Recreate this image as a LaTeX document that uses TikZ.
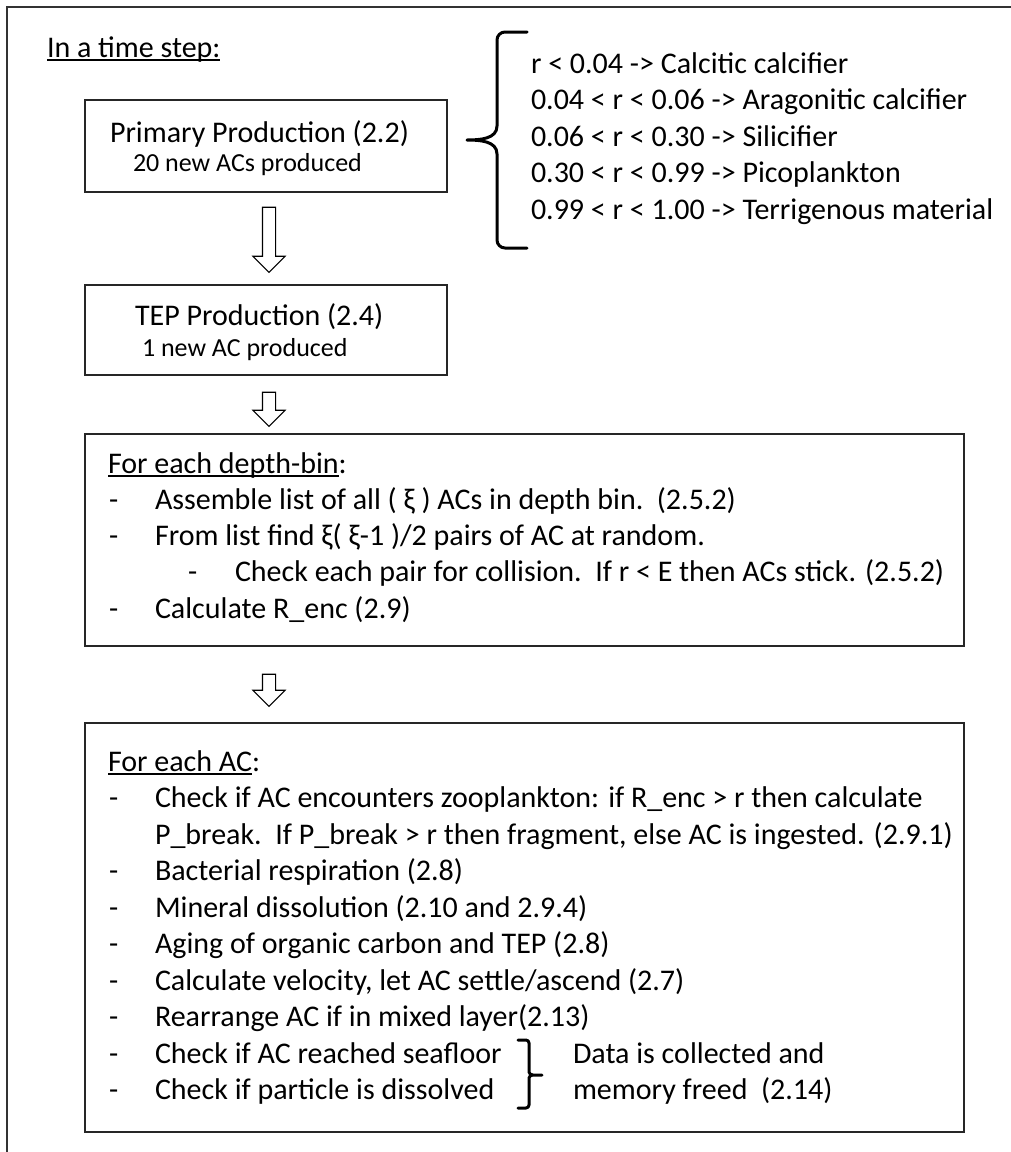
\documentclass[tikz,border=0pt]{standalone}
\usepackage{fontspec}
\setmainfont{Carlito}
\usetikzlibrary{shapes.arrows}
\newcommand{\ulined}[1]{\setbox0=\hbox{#1}\rlap{\rule[-4pt]{\wd0}{1.8pt}}\box0}

\begin{document}
\begin{tikzpicture}[x=1pt, y=1pt,
                    line width=1.4pt,
                    every node/.style={inner sep=0pt, outer sep=0pt},
                    ]
    \tikzstyle{stepbox}=[draw=black!85, rectangle]
    \tikzstyle{bigtext}=[anchor=base west, font=\fontsize{30}{36.5}\selectfont]
    \tikzstyle{smalltext}=[bigtext, font=\fontsize{26}{31}\selectfont]
    \tikzstyle{hollowarrow}=[single arrow, draw=black, fill=white, line width=1.1pt, rotate=-90,
                             inner sep=6pt, minimum width=31, single arrow head extend=9.5]
    \tikzstyle{curly}=[line width=3pt, line cap=round, line join=round]

    \useasboundingbox (0,0) rectangle (1011,-1152);
    \draw[line width=2pt, black!80] (7,-1152) -- (7,-7) -- (1011,-7);

    \node[bigtext] (title) at (47,-57) {\ulined{In a time step:}};

    % production boxes
    \node[stepbox, minimum width=362, minimum height=92] (primary) at (266,-146) {};
    \node[bigtext] (primaryname) at (110,-142) {Primary Production (2.2)};
    \node[smalltext] (primarynote) at (133,-171) {20 new ACs produced};

    \node[stepbox, minimum width=362, minimum height=90] (tep) at (266,-330) {};
    \node[bigtext] (tepname) at (135,-325) {TEP Production (2.4)};
    \node[smalltext] (tepnote) at (142,-356) {1 new AC produced};

    \node[hollowarrow, minimum height=65] (arrowA) at (269,-236.5) {};
    \node[hollowarrow, minimum height=34] (arrowB) at (269,-406) {};

    % random number split
    \draw[curly] (527,-32) -- (505,-32) to[out=180,in=90] (497,-40) -- (497,-126)
        to[out=-90,in=0] (467,-140) to[out=0,in=90] (497,-154) -- (497,-240)
        to[out=-90,in=180] (505,-248) -- (527,-248);
    \node[bigtext] (kind1) at (531,-73) {r < 0.04 -> Calcitic calcifier};
    \node[bigtext] (kind2) at (531,-109.5) {0.04 < r < 0.06 -> Aragonitic calcifier};
    \node[bigtext] (kind3) at (531,-146) {0.06 < r < 0.30 -> Silicifier};
    \node[bigtext] (kind4) at (531,-182.5) {0.30 < r < 0.99 -> Picoplankton};
    \node[bigtext] (kind5) at (531,-219) {0.99 < r < 1.00 -> Terrigenous material};

    % depth bins
    \node[stepbox, minimum width=879, minimum height=212] (depthbin) at (524.5,-540) {};
    \node[bigtext] (binhead) at (108,-473) {\ulined{For each depth-bin}:};
    \node[bigtext] (bindash1) at (109,-509) {-};
    \node[bigtext] (binline1) at (155,-509) {Assemble list of all ( ξ ) ACs in depth bin.\ \ (2.5.2)};
    \node[bigtext] (bindash2) at (109,-545) {-};
    \node[bigtext] (binline2) at (155,-545) {From list find ξ( ξ-1 )/2 pairs of AC at random.};
    \node[bigtext] (bindash3) at (188,-581) {-};
    \node[bigtext] (binline3) at (235,-581) {Check each pair for collision.\ \ If r < E then ACs stick. (2.5.2)};
    \node[bigtext] (bindash4) at (109,-618) {-};
    \node[bigtext] (binline4) at (155,-618) {Calculate R\_enc (2.9)};

    \node[hollowarrow, minimum height=32] (arrowC) at (269,-687) {};

    % aggregates
    \node[stepbox, minimum width=879, minimum height=409] (perac) at (524.5,-927.5) {};
    \node[bigtext] (achead) at (108,-771) {\ulined{For each AC}:};
    \node[bigtext] (acdash1) at (109,-807.5) {-};
    \node[bigtext] (acline1) at (155,-807.5) {Check if AC encounters zooplankton: if R\_enc > r then calculate};
    \node[bigtext] (acline1b) at (155,-844) {P\_break.\ \ If P\_break > r then fragment, else AC is ingested. (2.9.1)};
    \node[bigtext] (acdash2) at (109,-880.5) {-};
    \node[bigtext] (acline2) at (155,-880.5) {Bacterial respiration (2.8)};
    \node[bigtext] (acdash3) at (109,-917) {-};
    \node[bigtext] (acline3) at (155,-917) {Mineral dissolution (2.10 and 2.9.4)};
    \node[bigtext] (acdash4) at (109,-953.5) {-};
    \node[bigtext] (acline4) at (155,-953.5) {Aging of organic carbon and TEP (2.8)};
    \node[bigtext] (acdash5) at (109,-990) {-};
    \node[bigtext] (acline5) at (155,-990) {Calculate velocity, let AC settle/ascend (2.7)};
    \node[bigtext] (acdash6) at (109,-1026.5) {-};
    \node[bigtext] (acline6) at (155,-1026.5) {Rearrange AC if in mixed layer(2.13)};
    \node[bigtext] (acdash7) at (109,-1063) {-};
    \node[bigtext] (acline7) at (155,-1063) {Check if AC reached seafloor};
    \node[bigtext] (acdash8) at (109,-1099.5) {-};
    \node[bigtext] (acline8) at (155,-1099.5) {Check if particle is dissolved};

    \draw[curly] (518,-1040) -- (526,-1040) to[out=0,in=90] (529,-1043) -- (529,-1072)
        to[out=-90,in=180] (533,-1075) -- (542,-1075) -- (533,-1075)
        to[out=180,in=90] (529,-1078) -- (529,-1105)
        to[out=-90,in=0] (526,-1108) -- (518,-1108);
    \node[bigtext] (collect1) at (573,-1063) {Data is collected and};
    \node[bigtext] (collect2) at (573,-1099.5) {memory freed\ \ (2.14)};
\end{tikzpicture}
\end{document}
